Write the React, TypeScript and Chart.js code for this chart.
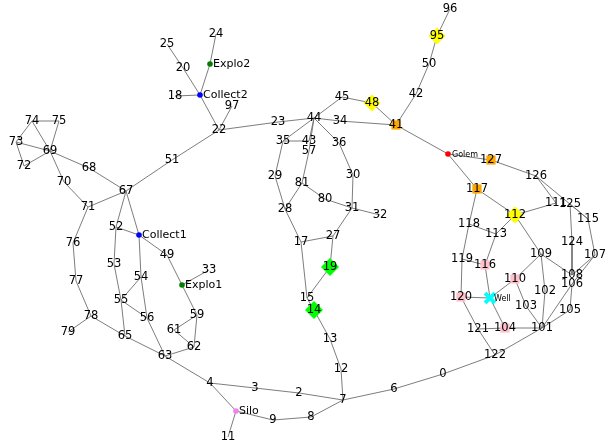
import React, { useEffect, useRef } from 'react';
import { Chart, registerables } from 'chart.js';

Chart.register(...registerables);

// graph layout: node names and their positions
const nodeNames = [
  '96', '95', '50', '42', '41', '48', '45', '44', '34', '23', '22', '97',
  'Collect2', '18', '20', '25', 'Explo2', '24', '51', '67', '68', '69', '74', '75',
  '73', '72', '70', '71', '76', '77', '78', '79', '65', '63', '52', 'Collect1',
  '53', '54', '55', '56', '49', 'Explo1', '33', '59', '61', '62', '4', '3',
  '2', 'Silo', '11', '9', '8', '7', '6', '0', '122', '12', '13', '14',
  '15', '19', '17', '27', '28', '29', '81', '80', '31', '32', '30', '36',
  '35', '43', '57', 'Golem', '127', '126', '117', '112', '111', '125', '115', '118',
  '113', '124', '107', '109', '119', '116', '110', '108', '106', '102', 'Well', '120',
  '103', '105', '121', '104', '101',
];
const nodeX = [
  450, 437, 429, 416, 396, 372, 342, 314, 340, 278, 219, 232,
  200, 175, 183, 167, 210, 216, 172, 126, 89, 50, 32, 59,
  16, 24, 64, 88, 73, 76, 91, 68, 125, 165, 116, 139,
  114, 141, 121, 147, 167, 182, 209, 197, 174, 194, 210, 255,
  299, 236, 228, 273, 311, 343, 394, 443, 495, 341, 330, 314,
  307, 330, 301, 333, 285, 275, 302, 325, 352, 380, 353, 339,
  283, 309, 309, 448, 491, 536, 477, 515, 556, 570, 588, 469,
  496, 572, 595, 541, 462, 485, 515, 572, 572, 545, 490, 461,
  526, 570, 478, 505, 542,
];
const nodeY = [
  9, 36, 64, 94, 125, 103, 97, 118, 121, 122, 130, 106,
  95, 96, 68, 44, 64, 34, 160, 191, 168, 151, 121, 121,
  142, 166, 182, 207, 243, 281, 316, 332, 336, 356, 227, 235,
  264, 277, 300, 318, 255, 285, 270, 315, 330, 347, 383, 388,
  393, 411, 437, 420, 417, 400, 389, 374, 355, 369, 339, 310,
  298, 267, 242, 236, 209, 176, 183, 199, 208, 215, 175, 143,
  141, 141, 151, 154, 160, 176, 189, 215, 203, 204, 219, 224,
  234, 242, 255, 254, 259, 265, 279, 275, 284, 291, 298, 297,
  306, 310, 329, 328, 328,
];

const edges: [string, string][] = [
  ['96', '95'], ['95', '50'], ['50', '42'], ['42', '41'], ['41', '48'], ['48', '45'],
  ['45', '44'], ['44', '34'], ['34', '41'], ['41', 'Golem'], ['Golem', '127'], ['Golem', '117'],
  ['127', '126'], ['126', '111'], ['126', '115'], ['125', '115'], ['125', '124'], ['124', '108'],
  ['117', '112'], ['117', '118'], ['112', '111'], ['112', '113'], ['112', '109'], ['118', '113'],
  ['118', '119'], ['113', '116'], ['119', '116'], ['119', '120'], ['116', 'Well'], ['120', 'Well'],
  ['Well', '110'], ['Well', '104'], ['120', '121'], ['121', '104'], ['121', '122'], ['104', '101'],
  ['110', '109'], ['110', '103'], ['103', '101'], ['109', '102'], ['102', '101'], ['109', '108'],
  ['108', '107'], ['106', '107'], ['107', '115'], ['106', '101'], ['106', '105'], ['105', '101'],
  ['101', '122'], ['122', '0'], ['0', '6'], ['6', '7'], ['7', '12'], ['12', '13'],
  ['13', '14'], ['14', '15'], ['15', '17'], ['15', '19'], ['19', '27'], ['27', '17'],
  ['27', '31'], ['17', '28'], ['28', '29'], ['28', '81'], ['29', '35'], ['35', '43'],
  ['35', '44'], ['44', '43'], ['44', '57'], ['57', '81'], ['81', '80'], ['80', '31'],
  ['31', '32'], ['31', '30'], ['30', '36'], ['36', '44'], ['44', '23'], ['23', '22'],
  ['22', '97'], ['22', 'Collect2'], ['Collect2', '18'], ['Collect2', '20'], ['20', '25'], ['Collect2', 'Explo2'],
  ['Explo2', '24'], ['22', '51'], ['51', '67'], ['67', '68'], ['68', '69'], ['69', '74'],
  ['69', '75'], ['74', '75'], ['74', '73'], ['73', '69'], ['73', '72'], ['72', '69'],
  ['69', '70'], ['70', '71'], ['71', '67'], ['71', '76'], ['76', '77'], ['77', '78'],
  ['78', '79'], ['78', '65'], ['65', '63'], ['63', '4'], ['4', '3'], ['3', '2'],
  ['2', '7'], ['4', 'Silo'], ['Silo', '11'], ['Silo', '9'], ['9', '8'], ['8', '7'],
  ['67', '52'], ['67', 'Collect1'], ['52', 'Collect1'], ['52', '53'], ['53', '55'], ['55', '65'],
  ['55', '54'], ['54', 'Collect1'], ['55', '56'], ['54', '56'], ['56', '63'], ['Collect1', '49'],
  ['49', 'Explo1'], ['Explo1', '33'], ['Explo1', '59'], ['59', '61'], ['59', '62'], ['61', '62'],
  ['62', '63'],
];

// node groups
const yellowNodes = ['95', '48', '112'];
const greenNodes = ['19', '14'];
const orangeNodes = ['41', '127', '117'];
const pinkNodes = ['116', '110', '120', '104'];
const wellNodes = ['Well'];
const collectNodes = ['Collect1', 'Collect2'];
const exploNodes = ['Explo1', 'Explo2'];
const golemNodes = ['Golem'];
const siloNodes = ['Silo'];
const sideLabelNodes = ['Collect1', 'Collect2', 'Explo1', 'Explo2', 'Silo'];
const smallLabelNodes = ['Golem', 'Well'];

const pos = (name: string) => {
  const i = nodeNames.indexOf(name);
  return { x: nodeX[i], y: nodeY[i] };
};

const labelPlugin = {
  id: 'nodeLabels',
  afterDatasetsDraw(chart: any) {
    const { ctx, scales } = chart;
    ctx.save();
    ctx.fillStyle = '#000';
    ctx.textBaseline = 'middle';
    nodeNames.forEach((n) => {
      const p = pos(n);
      const px = scales.x.getPixelForValue(p.x);
      const py = scales.y.getPixelForValue(p.y);
      if (sideLabelNodes.includes(n)) {
        ctx.font = '11px "DejaVu Sans"';
        ctx.textAlign = 'left';
        ctx.fillText(n, px + 3, py);
      } else if (smallLabelNodes.includes(n)) {
        ctx.font = '8px "DejaVu Sans"';
        ctx.textAlign = 'left';
        ctx.fillText(n, px + 4, py + 1);
      } else {
        ctx.font = '11.5px "DejaVu Sans"';
        ctx.textAlign = 'center';
        ctx.fillText(n, px, py);
      }
    });
    ctx.restore();
  },
};

export default function App() {
  const canvasRef = useRef<HTMLCanvasElement>(null);
  useEffect(() => {
    document.body.style.margin = '0';
    const edgeData: any[] = [];
    edges.forEach(([a, b]) => {
      edgeData.push(pos(a), pos(b), { x: null, y: null });
    });
    const group = (names: string[]) => names.map(pos);
    const markers = (names: string[], style: string, color: string, radius: number, extra: any = {}) => ({
      type: 'scatter' as const,
      data: group(names),
      pointStyle: style,
      pointRadius: radius,
      pointHoverRadius: radius,
      pointBackgroundColor: color,
      pointBorderColor: color,
      pointBorderWidth: 0,
      order: 0,
      ...extra,
    });
    const chart = new Chart(canvasRef.current!.getContext('2d')!, {
      type: 'scatter',
      data: {
        datasets: [
          {
            data: edgeData,
            showLine: true,
            spanGaps: false,
            borderColor: '#6e6e6e',
            borderWidth: 0.9,
            pointRadius: 0,
            pointHoverRadius: 0,
            order: 10,
          },
          markers(yellowNodes, 'rectRot', '#ffff00', 8.5),
          markers(greenNodes, 'rectRot', '#00ff00', 9),
          markers(orangeNodes, 'rect', '#ffa500', 6.5),
          markers(pinkNodes, 'rect', '#ffc0cb', 6.5),
          markers(wellNodes, 'crossRot', '#00ffff', 7, { pointBorderWidth: 4 }),
          markers(collectNodes, 'circle', '#0000ff', 2.8),
          markers(exploNodes, 'circle', '#008000', 2.8),
          markers(golemNodes, 'circle', '#ff0000', 2.8),
          markers(siloNodes, 'circle', '#ee82ee', 2.8),
        ] as any,
      },
      options: {
        responsive: true,
        maintainAspectRatio: false,
        animation: false,
        layout: { padding: 0, autoPadding: false },
        events: [],
        plugins: { legend: { display: false }, tooltip: { enabled: false } },
        scales: {
          x: { type: 'linear', min: 0, max: 610, display: false },
          y: { type: 'linear', min: 0, max: 445, reverse: true, display: false },
        },
      },
      plugins: [labelPlugin],
    });
    return () => chart.destroy();
  }, []);
  return (
    <div style={{ width: 610, height: 445, position: 'relative', background: '#fff' }}>
      <canvas ref={canvasRef} aria-label="Network graph of map nodes"></canvas>
    </div>
  );
}
